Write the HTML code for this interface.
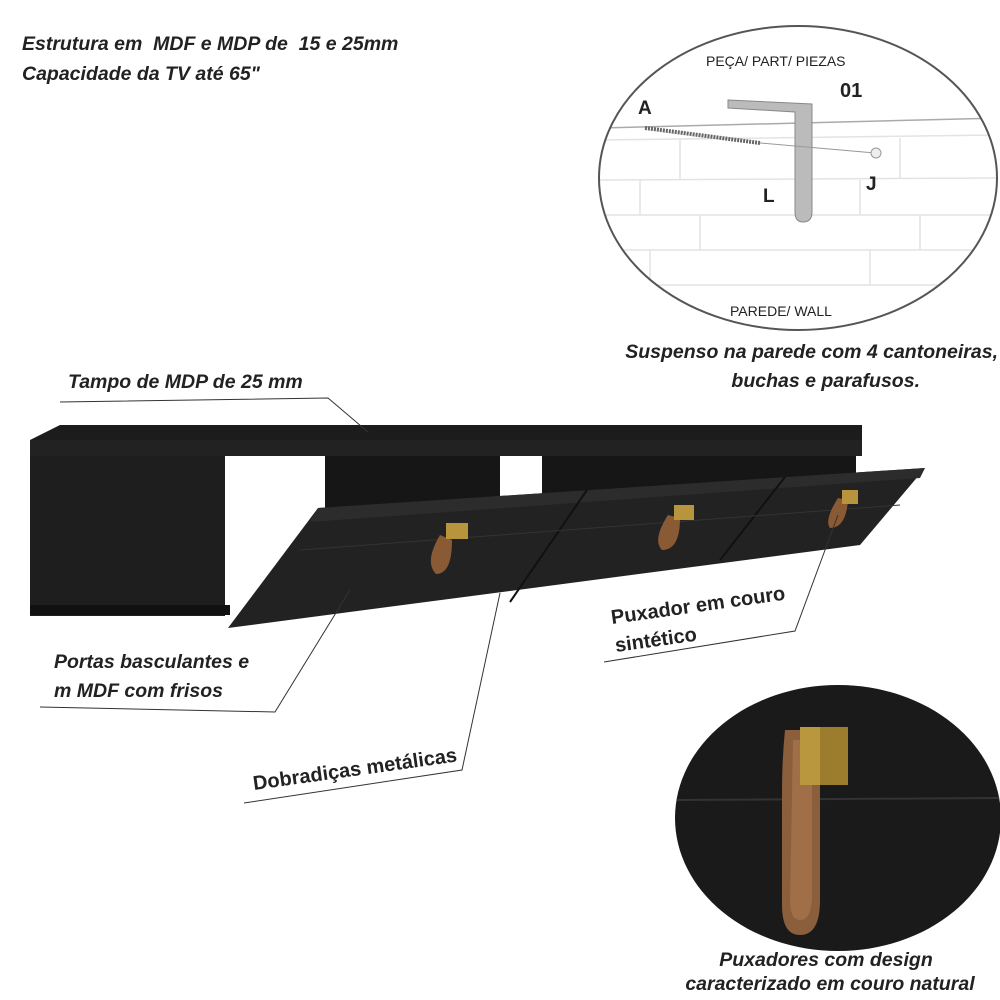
<!DOCTYPE html>
<html><head><meta charset="utf-8"><style>
html,body{margin:0;padding:0;background:#fff;}
svg{display:block}
text{font-family:"Liberation Sans",sans-serif;}
.it{font-style:italic;font-weight:bold;fill:#222;font-size:19.5px;white-space:pre}
.up{font-weight:bold;fill:#222;font-size:20px}
</style></head><body>
<svg width="1000" height="1000" viewBox="0 0 1000 1000" xml:space="preserve">
<text x="22" y="50" class="it">Estrutura em  MDF e MDP de  15 e 25mm</text>
<text x="22" y="80" class="it">Capacidade da TV até 65"</text>

<defs><clipPath id="ec"><ellipse cx="798" cy="178" rx="199" ry="152"/></clipPath>
<clipPath id="ec2"><ellipse cx="838" cy="818" rx="163" ry="133"/></clipPath></defs>
<g clip-path="url(#ec)" stroke="#e3e3e3" stroke-width="1.5" fill="none">
<line x1="600" y1="128" x2="1000" y2="118" stroke="#aaa"/>
<line x1="600" y1="140" x2="1000" y2="135"/>
<line x1="600" y1="180" x2="1000" y2="178"/>
<line x1="600" y1="215" x2="1000" y2="215"/>
<line x1="600" y1="250" x2="1000" y2="250"/>
<line x1="600" y1="285" x2="1000" y2="285"/>
<line x1="680" y1="140" x2="680" y2="180"/><line x1="900" y1="138" x2="900" y2="178"/>
<line x1="640" y1="180" x2="640" y2="215"/><line x1="860" y1="180" x2="860" y2="215"/>
<line x1="700" y1="215" x2="700" y2="250"/><line x1="920" y1="215" x2="920" y2="250"/>
<line x1="650" y1="250" x2="650" y2="285"/><line x1="870" y1="250" x2="870" y2="285"/>
</g>
<ellipse cx="798" cy="178" rx="199" ry="152" fill="none" stroke="#555" stroke-width="2"/>
<text x="706" y="66" font-size="14" fill="#222">PEÇA/ PART/ PIEZAS</text>
<text x="840" y="97" font-size="20" font-weight="bold" fill="#222">01</text>
<text x="638" y="114" font-size="19" font-weight="bold" fill="#222">A</text>
<text x="763" y="202" font-size="19" font-weight="bold" fill="#222">L</text>
<text x="866" y="190" font-size="19" font-weight="bold" fill="#222">J</text>
<text x="730" y="316" font-size="14" fill="#222">PAREDE/ WALL</text>
<path d="M728 100 L812 104 L812 212 Q812 222 803 222 Q795 222 795 212 L795 112 L728 108Z" fill="#bbb" stroke="#888"/>
<line x1="645" y1="128" x2="760" y2="143" stroke="#666" stroke-width="4" stroke-dasharray="2 1"/>
<line x1="760" y1="143" x2="875" y2="153" stroke="#999"/>
<circle cx="876" cy="153" r="5" fill="#eee" stroke="#999"/>
<text x="998" y="358" class="it" text-anchor="end">Suspenso na parede com 4 cantoneiras,</text>
<text x="920" y="387" class="it" text-anchor="end">buchas e parafusos.</text>

<polygon points="30,440 60,425 862,425 862,440 30,455" fill="#1c1c1c"/>
<rect x="30" y="440" width="832" height="16" fill="#222"/>
<rect x="30" y="456" width="195" height="160" fill="#1e1e1e"/>
<rect x="225" y="456" width="100" height="124" fill="#fff"/>
<rect x="325" y="456" width="175" height="70" fill="#161616"/>
<rect x="500" y="456" width="42" height="60" fill="#fff"/>
<rect x="542" y="456" width="164" height="60" fill="#161616"/>
<rect x="706" y="456" width="150" height="30" fill="#161616"/>
<rect x="30" y="605" width="200" height="10" fill="#111"/>
<polygon points="318,508 925,468 860,545 228,628" fill="#222"/>
<polygon points="318,508 925,468 920,478 310,522" fill="#2c2c2c"/>
<line x1="587" y1="490" x2="510" y2="602" stroke="#111" stroke-width="2"/>
<line x1="785" y1="477" x2="720" y2="560" stroke="#111" stroke-width="2"/>
<line x1="300" y1="550" x2="900" y2="505" stroke="#333" stroke-width="1"/>
<g fill="#8a5a35"><path d="M440 535 Q424 562 436 574 Q452 574 452 540Z"/><path d="M668 515 Q652 540 662 550 Q680 550 680 518Z"/><path d="M838 498 Q824 520 830 528 Q846 528 848 500Z"/></g>
<g fill="#b8943c"><rect x="446" y="523" width="22" height="16"/><rect x="674" y="505" width="20" height="15"/><rect x="842" y="490" width="16" height="14"/></g>

<text x="68" y="388" class="it">Tampo de MDP de 25 mm</text>
<polyline points="60,402 328,398 368,432" fill="none" stroke="#333"/>
<text x="54" y="668" class="it">Portas basculantes e</text>
<text x="54" y="697" class="it">m MDF com frisos</text>
<polyline points="40,707 275,712 350,590" fill="none" stroke="#333"/>
<text x="254" y="790" class="up" transform="rotate(-8 254 790)">Dobradiças metálicas</text>
<polyline points="244,803 462,770 500,593" fill="none" stroke="#333"/>
<text x="612" y="624" class="up" transform="rotate(-8 612 624)">Puxador em couro</text>
<text x="616" y="652" class="up" transform="rotate(-8 616 652)">sintético</text>
<polyline points="604,662 795,631 838,515" fill="none" stroke="#333"/>

<g clip-path="url(#ec2)">
<rect x="670" y="680" width="335" height="280" fill="#1a1a1a"/>
<line x1="670" y1="800" x2="1005" y2="798" stroke="#333" stroke-width="2"/>
<path d="M785 730 L820 730 L820 900 Q820 935 800 935 Q782 935 782 905 L782 790 Q782 760 785 730Z" fill="#8b5e3c"/>
<path d="M793 740 L812 740 L812 895 Q812 920 800 920 Q790 920 790 900Z" fill="#a06f48"/>
<rect x="800" y="727" width="48" height="58" fill="#b8973e"/>
<rect x="820" y="727" width="28" height="58" fill="#9c7d2e"/>
</g>
<text x="826" y="966" class="it" font-size="18" text-anchor="middle">Puxadores com design</text>
<text x="830" y="990" class="it" font-size="18" text-anchor="middle">caracterizado em couro natural</text>
</svg>
</body></html>
